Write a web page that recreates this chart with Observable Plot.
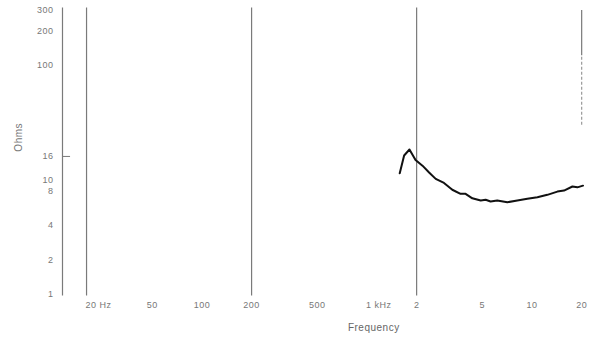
<!DOCTYPE html>
<html><head><meta charset="utf-8">
<script src="https://cdn.jsdelivr.net/npm/d3@7"></script>
<script src="https://cdn.jsdelivr.net/npm/@observablehq/plot@0.6"></script>
<style>body{margin:0;background:#fff}#chart svg{display:block}</style>
</head><body><div id="chart"></div>
<script>
const freqHz = [1580,1680,1810,1970,2170,2380,2610,2930,3290,3690,3960,4350,4890,5240,5610,6160,7090,8150,9370,10780,12390,14250,15630,17580,18840,20380];
const ohms   = [11.4,16.3,18.4,14.9,13.3,11.6,10.2,9.4,8.2,7.55,7.55,6.9,6.6,6.7,6.47,6.6,6.38,6.6,6.83,7.05,7.4,7.9,8.07,8.75,8.6,8.9];
const yTickValues = [1,2,4,8,10,16,100,200,300];
const yTickLabels = ["1","2","4","8","10","16","100","200","300"];
const xTickValues = [20,50,100,200,500,1000,2000,5000,10000,20000];
const xTickLabels = ["20 Hz","50","100","200","500","1 kHz","2","5","10","20"];
const markerFreqs = [20,200,2000];
const endFreq = [20000];
const endSolidOhms = [121,300];
const endDashOhms = [30,121];
const xDomain = [14.3,22000];
const yDomain = [1,300];

const curve = freqHz.map((f,i)=>({f, z: ohms[i]}));
const yTicks = yTickValues.map((v,i)=>({v, label: yTickLabels[i]}));
const xTicks = xTickValues.map((v,i)=>({v, label: xTickLabels[i]}));
const unitTicks = xTicks.filter(d=>d.label.includes(" "));
const plainTicks = xTicks.filter(d=>!d.label.includes(" "));
const font = "Liberation Sans, DejaVu Sans, sans-serif";

const chart = Plot.plot({
  width: 599, height: 338,
  marginTop: 0, marginRight: 0, marginBottom: 0, marginLeft: 0,
  style: {fontFamily: font, background: "#fff"},
  x: {type: "log", domain: xDomain, range: [62, 588], axis: null},
  y: {type: "log", domain: yDomain, range: [294, 10], axis: null},
  marks: [
    Plot.ruleX(markerFreqs, {y1: 0.97, y2: 315, stroke: "#7a7a7a", strokeWidth: 1.2}),
    Plot.ruleX(endFreq, {y1: endSolidOhms[0], y2: endSolidOhms[1], stroke: "#7a7a7a", strokeWidth: 1.2}),
    Plot.ruleX(endFreq, {y1: endDashOhms[0], y2: endDashOhms[1], stroke: "#999", strokeWidth: 1.2, strokeDasharray: "3,2"}),
    Plot.ruleX([xDomain[0]], {y1: 0.97, y2: 315, stroke: "#7a7a7a", strokeWidth: 1.2}),
    Plot.ruleY([16], {x1: xDomain[0], x2: 16.0, stroke: "#7a7a7a", strokeWidth: 1}),
    Plot.text(yTicks, {x: xDomain[0], y: "v", text: "label", textAnchor: "end", dx: -9, fill: "#777", fontSize: 9}),
    Plot.text(plainTicks, {x: "v", y: yDomain[0], text: "label", textAnchor: "middle", dy: 11, fill: "#777", fontSize: 9}),
    Plot.text(unitTicks, {x: "v", y: yDomain[0], text: "label", textAnchor: "start", dy: 11, dx: -1, fill: "#777", fontSize: 9}),
    Plot.line(curve, {x: "f", y: "z", stroke: "#111", strokeWidth: 2, strokeLinejoin: "round"}),
    Plot.text(["Frequency"], {frameAnchor: "bottom", x: 1100, dy: -8, y: null, text: d=>d, fill: "#666", fontSize: 10, textAnchor: "middle"}),
    Plot.text(["Ohms"], {frameAnchor: "left", y: 23.5, dx: 18, text: d=>d, fill: "#777", fontSize: 10, rotate: -90, textAnchor: "middle"})
  ]
});
chart.querySelectorAll("text").forEach(t=>t.style.letterSpacing="0.5px");
document.getElementById("chart").append(chart);
</script></body></html>
